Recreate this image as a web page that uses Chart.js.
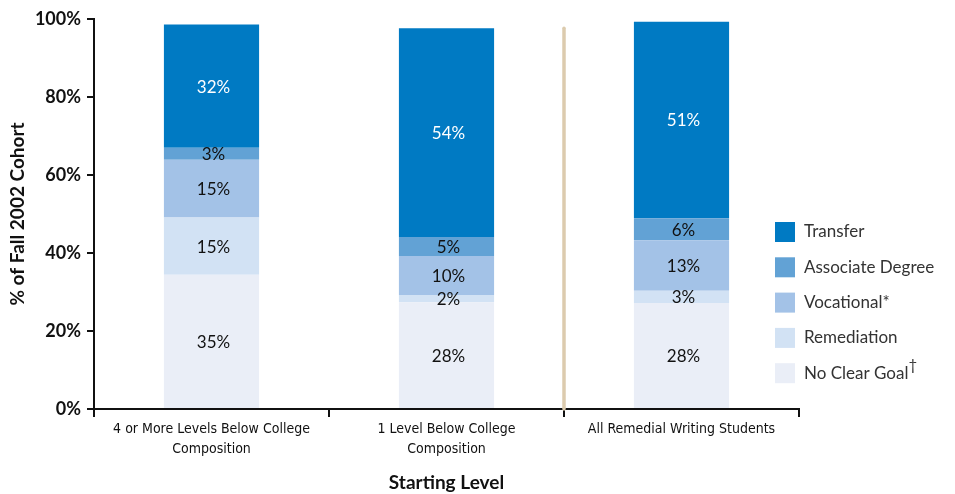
<!DOCTYPE html>
<html>
<head>
<meta charset="utf-8">
<script src="https://cdn.jsdelivr.net/npm/chart.js@4"></script>
<style>
  html, body { margin: 0; padding: 0; background: #fff; }
  #wrap { width: 955px; height: 494px; position: relative; }
</style>
</head>
<body>
<div id="wrap"><canvas id="myChart" width="955" height="494"></canvas></div>
<script>
// starting levels (x categories)
const levels = [
  ['4 or More Levels Below College', 'Composition'],
  ['1 Level Below College', 'Composition'],
  ['All Remedial Writing Students']
]

// segment heights (% of cohort)
const noClearGoal = [34.4, 27.4, 27.2]
const remediation = [14.7, 1.8, 3.1]
const vocational = [14.8, 10.0, 13.0]
const associate = [3.1, 4.9, 5.6]
const transfer = [31.6, 53.5, 50.4]

// printed labels on each segment
const noClearGoalText = ['35%', '28%', '28%']
const remediationText = ['15%', '2%', '3%']
const vocationalText = ['15%', '10%', '13%']
const associateText = ['3%', '5%', '6%']
const transferText = ['32%', '54%', '51%']

const yTicks = [0, 20, 40, 60, 80, 100]

const datasets = [
  { label: 'No Clear Goal', data: noClearGoal, texts: noClearGoalText, backgroundColor: '#eaeef7', textColor: '#111' },
  { label: 'Remediation', data: remediation, texts: remediationText, backgroundColor: '#d2e2f4', textColor: '#111' },
  { label: 'Vocational*', data: vocational, texts: vocationalText, backgroundColor: '#a3c2e7', textColor: '#111' },
  { label: 'Associate Degree', data: associate, texts: associateText, backgroundColor: '#62a2d5', textColor: '#111' },
  { label: 'Transfer', data: transfer, texts: transferText, backgroundColor: '#007ac3', textColor: '#fff' }
]

// labels in the middle of each segment
const segmentLabels = {
  id: 'segmentLabels',
  afterDatasetsDraw(chart) {
    const ctx = chart.ctx
    ctx.save()
    ctx.font = '17px Lato'
    ctx.textAlign = 'center'
    ctx.textBaseline = 'middle'
    chart.data.datasets.forEach((ds, i) => {
      chart.getDatasetMeta(i).data.forEach((bar, j) => {
        ctx.fillStyle = ds.textColor
        ctx.fillText(ds.texts[j], bar.x + 2, (bar.y + bar.base) / 2 + 1)
      })
    })
    ctx.restore()
  }
}

// tan separator between the two levels and the total
const separator = {
  id: 'separator',
  beforeDatasetsDraw(chart) {
    const x = chart.scales.x
    const y = chart.scales.y
    const px = (x.getPixelForValue(1) + x.getPixelForValue(2)) / 2
    const ctx = chart.ctx
    ctx.save()
    ctx.strokeStyle = '#dccbae'
    ctx.lineWidth = 3.5
    ctx.lineCap = 'round'
    ctx.beginPath()
    ctx.moveTo(px, y.getPixelForValue(97.6))
    ctx.lineTo(px, y.getPixelForValue(0))
    ctx.stroke()
    ctx.restore()
  }
}

// legend on the right, top item first
const sideLegend = {
  id: 'sideLegend',
  afterDraw(chart) {
    const ctx = chart.ctx
    const items = chart.data.datasets.slice().reverse()
    ctx.save()
    ctx.font = '17px Lato'
    ctx.textBaseline = 'middle'
    ctx.textAlign = 'left'
    items.forEach((ds, k) => {
      const cy = 232 + k * 35.3
      ctx.fillStyle = ds.backgroundColor
      ctx.fillRect(775, cy - 10, 20, 20)
      ctx.fillStyle = '#333'
      ctx.fillText(ds.label, 804, cy)
      if (ds.label === 'No Clear Goal') {
        const w = ctx.measureText(ds.label).width
        ctx.font = '15px Lato'
        ctx.fillText('\u2020', 804 + w, cy - 8)
        ctx.font = '17px Lato'
      }
    })
    ctx.restore()
  }
}

new Chart(document.getElementById('myChart'), {
  type: 'bar',
  data: { labels: levels, datasets: datasets },
  options: {
    responsive: false,
    animation: false,
    layout: { padding: { top: 19, right: 156, left: 0, bottom: 0 } },
    datasets: { bar: { categoryPercentage: 1, barPercentage: 0.405 } },
    plugins: { legend: { display: false }, tooltip: { enabled: false } },
    scales: {
      x: {
        stacked: true,
        afterFit: (s) => { s.height = 85 },
        border: { display: true, color: '#111', width: 2 },
        grid: { display: true, drawOnChartArea: false, drawTicks: true, tickLength: 8, color: '#111', lineWidth: 2, offset: true },
        ticks: { color: '#111', font: { family: 'DejaVu Sans Condensed', size: 14, lineHeight: 1.4 }, padding: 3, maxRotation: 0 },
        title: { display: true, text: 'Starting Level', color: '#111', font: { family: 'Lato', size: 19, weight: 'bold' }, padding: { top: 4, bottom: 0 } }
      },
      y: {
        stacked: true,
        min: 0,
        max: 100,
        afterFit: (s) => { s.width = 94 },
        afterBuildTicks: (s) => { s.ticks = yTicks.map((v) => ({ value: v })) },
        border: { display: true, color: '#111', width: 2 },
        grid: { display: true, drawOnChartArea: false, drawTicks: true, tickLength: 7, color: '#111', lineWidth: 2 },
        ticks: { color: '#111', font: { family: 'Lato', size: 18, weight: 'bold' }, padding: 6, callback: (v) => v + '%' },
        title: { display: true, text: '% of Fall 2002 Cohort', color: '#111', font: { family: 'Lato', size: 19, weight: 'bold' }, padding: { top: 6, bottom: 0 } }
      }
    }
  },
  plugins: [separator, segmentLabels, sideLegend]
})
</script>
</body>
</html>
